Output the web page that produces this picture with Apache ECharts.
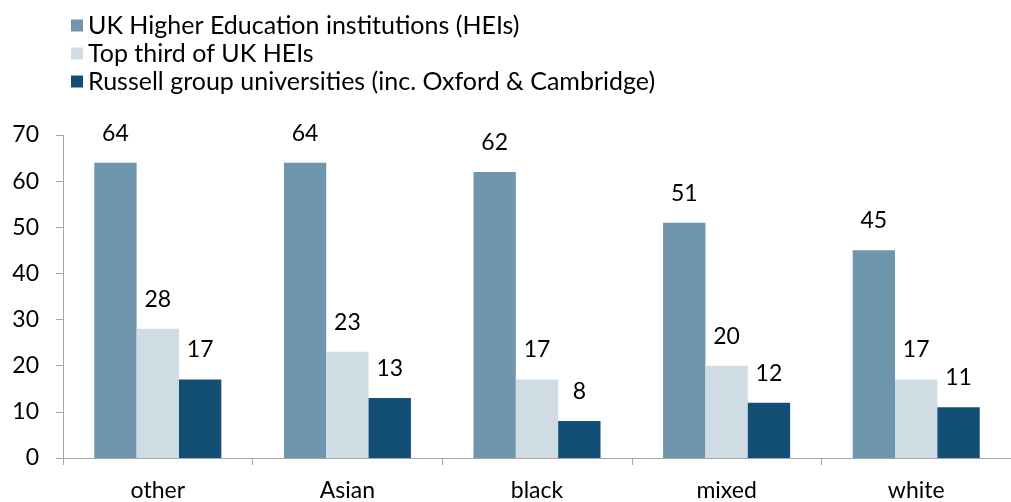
<!DOCTYPE html>
<html>
<head>
<meta charset="utf-8">
<script src="https://cdn.jsdelivr.net/npm/echarts@6/dist/echarts.min.js"></script>
<style>
  html, body { margin: 0; padding: 0; background: #fff; }
  #chart { width: 1011px; height: 502px; }
</style>
</head>
<body>
<div id="chart"></div>
<script>
const categories = ['other', 'Asian', 'black', 'mixed', 'white'];
const seriesNames = [
  'UK Higher Education institutions (HEIs)',
  'Top third of UK HEIs',
  'Russell group universities (inc. Oxford & Cambridge)'
];
const allHeis = [64, 64, 62, 51, 45];
const topThird = [28, 23, 17, 20, 17];
const russell = [17, 13, 8, 12, 11];
const yTicks = { min: 0, max: 70, interval: 10 };

const colors = ['#7096ae', '#cfdce4', '#134f74'];
const font = 'Lato, "Open Sans", sans-serif';

const chart = echarts.init(document.getElementById('chart'));

const makeSeries = (name, data, color) => ({
  name,
  type: 'bar',
  data,
  barGap: '0%',
  barCategoryGap: '33%',
  itemStyle: { color },
  label: {
    show: true,
    position: 'top',
    distance: 18,
    color: '#000',
    fontSize: 23,
    fontFamily: font
  }
});

chart.setOption({
  animation: false,
  textStyle: { fontFamily: font },
  legend: {
    orient: 'vertical',
    left: 66,
    top: 8,
    itemWidth: 12,
    itemHeight: 12,
    itemGap: 3,
    icon: 'rect',
    textStyle: { fontSize: 25, color: '#000', fontFamily: font, lineHeight: 25 },
    data: seriesNames
  },
  grid: { left: 63, top: 135, width: 957, height: 323 },
  xAxis: {
    type: 'category',
    data: categories,
    axisLine: { lineStyle: { color: '#a6a6a6' } },
    axisTick: { show: true, length: 7, lineStyle: { color: '#a6a6a6' } },
    axisLabel: { color: '#000', fontSize: 23, margin: 21, fontFamily: font }
  },
  yAxis: {
    type: 'value',
    min: yTicks.min,
    max: yTicks.max,
    interval: yTicks.interval,
    axisLine: { show: true, lineStyle: { color: '#a6a6a6' } },
    axisTick: { show: true, length: 7, lineStyle: { color: '#a6a6a6' } },
    splitLine: { show: false },
    axisLabel: { color: '#000', fontSize: 23, margin: 24, fontFamily: font }
  },
  series: [
    makeSeries(seriesNames[0], allHeis, colors[0]),
    makeSeries(seriesNames[1], topThird, colors[1]),
    makeSeries(seriesNames[2], russell, colors[2])
  ]
});
</script>
</body>
</html>
